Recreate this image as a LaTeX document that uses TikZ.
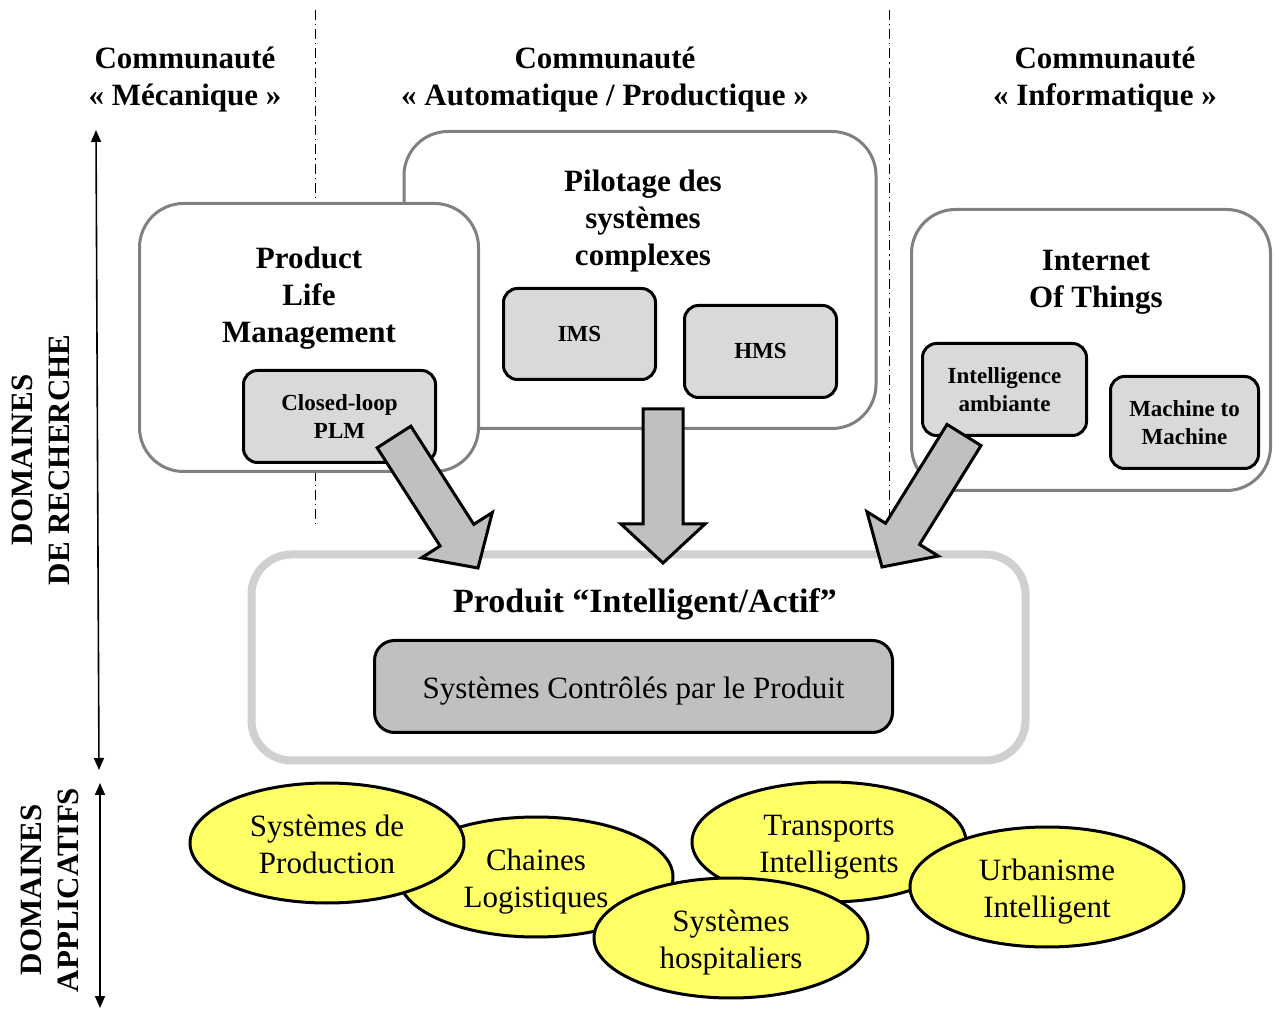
\documentclass[tikz,border=0pt]{standalone}
\usepackage{fontspec}
\setmainfont{Liberation Serif}
\usepackage{tikz}
\usetikzlibrary{arrows.meta, positioning, shapes.geometric, calc}

\definecolor{bordgris}{RGB}{128,128,128}
\definecolor{bordclair}{RGB}{208,208,208}
\definecolor{fondgris}{RGB}{217,217,217}
\definecolor{fondfonce}{RGB}{192,192,192}
\definecolor{jaune}{RGB}{255,255,102}

\newcommand{\titrefont}{\fontsize{15.5}{18.5}\selectfont\bfseries}
\newcommand{\petitfont}{\fontsize{11.5}{14}\selectfont\bfseries}
\newcommand{\textefont}{\fontsize{15.5}{18.5}\selectfont}
% deux lignes de texte a hauteur fixe
\newcommand{\deuxlignes}[2]{\rule{0pt}{15.5pt}#1\\#2\rule[-3.5pt]{0pt}{3.5pt}}

% grosse fleche de #1 vers #2
\newcommand{\grossefleche}[2]{%
  \coordinate (base) at ($(#2)!19.5pt!(#1)$);
  \draw[fleche] ($(#1)!10pt!90:(#2)$) -- ($(base)!10pt!90:(#2)$)
    -- ($(base)!21pt!90:(#2)$) -- (#2) -- ($(base)!21pt!-90:(#2)$)
    -- ($(base)!10pt!-90:(#2)$) -- ($(#1)!10pt!-90:(#2)$) -- cycle;
}

\begin{document}
\begin{tikzpicture}[x=0.5pt, y=-0.5pt,
  grandbox/.style={draw=bordgris, line width=1.5pt, rounded corners=22pt, fill=white, inner sep=0pt},
  petitbox/.style={draw=black, line width=1.5pt, rounded corners=7pt, fill=fondgris, align=center, font=\petitfont, inner sep=0pt},
  titre/.style={align=center, font=\titrefont},
  domaine/.style={ellipse, draw=black, line width=1.5pt, fill=jaune, minimum width=137pt, minimum height=60pt, inner sep=0pt, align=center, font=\textefont},
  fleche/.style={draw=black, line width=1.5pt, fill=fondfonce, line join=miter},
  separation/.style={line width=0.5pt, dash pattern=on 5pt off 2pt on 0.6pt off 2pt},
  axe/.style={line width=0.8pt, {Triangle[length=6pt,width=5pt]}-{Triangle[length=6pt,width=5pt]}}]

  \useasboundingbox (0,0) rectangle (1276,1010);

  % --- Separations entre communautes ---
  \coordinate (sep1-haut) at (315,10);
  \coordinate (sep1-bas) at (315,528);
  \coordinate (sep2-haut) at (889,10);
  \coordinate (sep2-bas) at (889,515);
  \draw[separation] (sep1-haut) -- (sep1-bas);
  \draw[separation] (sep2-haut) -- (sep2-bas);

  % --- En-tetes ---
  \node[titre] (meca) at (185,80) {Communauté\\« Mécanique »};
  \node[titre] (auto) at (605,80) {Communauté\\« Automatique / Productique »};
  \node[titre] (info) at (1105,80) {Communauté\\« Informatique »};

  % --- Axes a gauche ---
  \coordinate (rech-haut) at (96,130);
  \coordinate (rech-bas) at (99,770);
  \coordinate (appli-haut) at (100,783);
  \coordinate (appli-bas) at (100,1008);
  \draw[axe] (rech-haut) -- (rech-bas);
  \draw[axe] (appli-haut) -- (appli-bas);
  \node[titre, rotate=90] (recherche) at (41,460) {DOMAINES\\DE RECHERCHE};
  \node[titre, rotate=90] (applicatifs) at (50,890) {DOMAINES\\APPLICATIFS};

  % --- Domaines de recherche ---
  \node[grandbox, minimum width=236pt, minimum height=148.5pt] (pilotage) at (640,280) {};
  \node[titre] (pilotage-titre) at (643,221) {Pilotage des\\systèmes\\complexes};
  \node[grandbox, minimum width=169.5pt, minimum height=134pt] (plm) at (309,337.5) {};
  \node[titre] (plm-titre) at (309,298) {Product\\Life\\Management};
  \node[grandbox, minimum width=179.5pt, minimum height=140.5pt] (iot) at (1091,350) {};
  \node[titre] (iot-titre) at (1096,282) {Internet\\Of Things};

  \node[petitbox, minimum width=96pt, minimum height=46pt] (closedloop) at (339.5,416.5) {Closed-loop\\PLM};
  \node[petitbox, minimum width=76pt, minimum height=45.5pt] (ims) at (579.5,334) {IMS};
  \node[petitbox, minimum width=76pt, minimum height=46pt] (hms) at (760.5,351.5) {HMS};
  \node[petitbox, minimum width=82pt, minimum height=46pt] (ambiante) at (1004.5,389.5) {Intelligence\\ambiante};
  \node[petitbox, minimum width=74pt, minimum height=46pt] (m2m) at (1184.5,422.5) {Machine to\\Machine};

  % --- Produit intelligent ---
  \node[grandbox, draw=bordclair, line width=4pt, rounded corners=20pt, minimum width=387pt, minimum height=103pt] (produit) at (638.5,657.5) {};
  \node[font=\fontsize{17}{20}\selectfont\bfseries] (produit-titre) at (645,604) {Produit “Intelligent/Actif”};
  \node[petitbox, fill=fondfonce, rounded corners=10pt, font=\textefont, minimum width=259pt, minimum height=46pt,
    execute at begin node={\rule{0pt}{15pt}}] (controles) at (633.5,686.5) {Systèmes Contrôlés par le Produit};

  % --- Grosses fleches ---
  \coordinate (f1-depart) at (394,437);
  \coordinate (f1-pointe) at (478,568);
  \coordinate (f2-depart) at (663,409);
  \coordinate (f2-pointe) at (663,563);
  \coordinate (f3-depart) at (964,435);
  \coordinate (f3-pointe) at (882,567);
  \grossefleche{f1-depart}{f1-pointe}
  \grossefleche{f2-depart}{f2-pointe}
  \grossefleche{f3-depart}{f3-pointe}

  % --- Domaines applicatifs ---
  \node[domaine] (chaines) at (536,877) {\deuxlignes{Chaines}{Logistiques}};
  \node[domaine] (transports) at (829,842) {\deuxlignes{Transports}{Intelligents}};
  \node[domaine] (production) at (327,843) {\deuxlignes{Systèmes de}{Production}};
  \node[domaine] (hopitaux) at (731,938) {\deuxlignes{Systèmes}{hospitaliers}};
  \node[domaine] (urbanisme) at (1047,887) {\deuxlignes{Urbanisme}{Intelligent}};

\end{tikzpicture}
\end{document}
